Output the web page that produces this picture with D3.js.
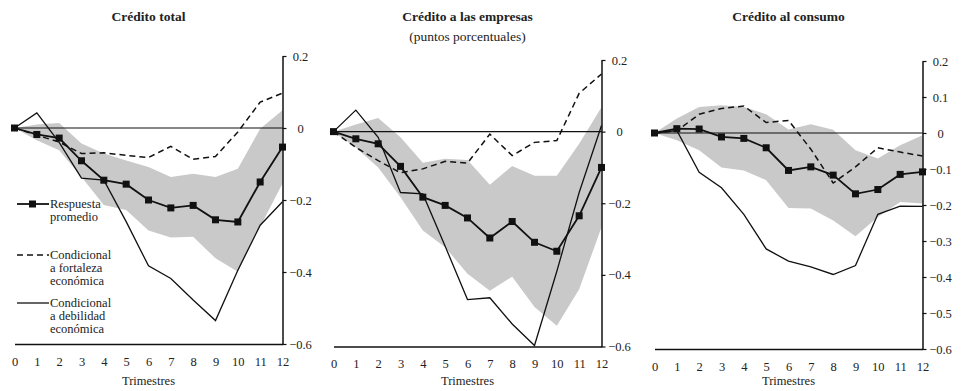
<html>
<head>
<script src="https://d3js.org/d3.v7.min.js"></script>
<style>
  body { margin: 0; background: #fff; }
</style>
</head>
<body>
<svg id="svg" width="961" height="391"></svg>
<script>
// horizon (quarters)
var quarters = d3.range(0, 13);
var yTicks1 = [0.2, 0, -0.2, -0.4, -0.6];
var yTicks3 = [0.2, 0.1, 0, -0.1, -0.2, -0.3, -0.4, -0.5, -0.6];

// Crédito total
var totalAvg    = [0, -0.018, -0.028, -0.091, -0.145, -0.156, -0.200, -0.222, -0.215, -0.255, -0.261, -0.150, -0.053];
var totalStrong = [0, -0.020, -0.039, -0.071, -0.069, -0.076, -0.082, -0.051, -0.087, -0.079, -0.011, 0.072, 0.097];
var totalWeak   = [0, 0.042, -0.040, -0.139, -0.145, -0.260, -0.383, -0.418, -0.478, -0.535, -0.395, -0.270, -0.205];
var totalHi     = [0, 0.010, 0.014, -0.043, -0.071, -0.090, -0.108, -0.136, -0.127, -0.136, -0.113, -0.002, 0.049];
var totalLo     = [0, -0.034, -0.062, -0.136, -0.214, -0.228, -0.285, -0.304, -0.302, -0.362, -0.399, -0.274, -0.154];

// Crédito a las empresas
var firmAvg    = [0, -0.020, -0.034, -0.097, -0.183, -0.206, -0.241, -0.297, -0.251, -0.309, -0.334, -0.235, -0.100];
var firmStrong = [0, -0.044, -0.081, -0.115, -0.104, -0.083, -0.088, -0.007, -0.067, -0.030, -0.025, 0.107, 0.161];
var firmWeak   = [0, 0.060, -0.016, -0.170, -0.174, -0.320, -0.469, -0.464, -0.537, -0.597, -0.390, -0.170, 0.017];
var firmHi     = [0, 0.020, 0.038, -0.016, -0.087, -0.076, -0.079, -0.148, -0.096, -0.123, -0.123, -0.034, 0.068];
var firmLo     = [0, -0.044, -0.100, -0.183, -0.276, -0.323, -0.397, -0.444, -0.405, -0.490, -0.542, -0.440, -0.267];

// Crédito al consumo
var consAvg    = [0, 0.012, 0.011, -0.011, -0.015, -0.041, -0.104, -0.094, -0.117, -0.169, -0.157, -0.115, -0.108];
var consStrong = [0, 0.006, 0.052, 0.068, 0.075, 0.029, 0.035, -0.045, -0.139, -0.094, -0.041, -0.053, -0.064];
var consWeak   = [0, 0.007, -0.109, -0.152, -0.226, -0.322, -0.356, -0.372, -0.393, -0.368, -0.226, -0.203, -0.204];
var consHi     = [0, 0.040, 0.072, 0.077, 0.072, 0.052, 0.010, 0.024, 0.009, -0.048, -0.071, -0.034, -0.006];
var consLo     = [0, -0.020, -0.048, -0.096, -0.104, -0.131, -0.208, -0.210, -0.243, -0.287, -0.233, -0.192, -0.196];

var titles = ["Crédito total", "Crédito a las empresas", "Crédito al consumo"];
var subtitle = "(puntos porcentuales)";
var xLabel = "Trimestres";
var legendLabels = [["Respuesta", "promedio"], ["Condicional", "a fortaleza", "económica"], ["Condicional", "a debilidad", "económica"]];

var panels = [
  {avg: totalAvg, strong: totalStrong, weak: totalWeak, hi: totalHi, lo: totalLo, ticks: yTicks1, x0: 14.5, x1: 282.5, yt: 56, yb: 344},
  {avg: firmAvg, strong: firmStrong, weak: firmWeak, hi: firmHi, lo: firmLo, ticks: yTicks1, x0: 333.5, x1: 601.5, yt: 60, yb: 346.5},
  {avg: consAvg, strong: consStrong, weak: consWeak, hi: consHi, lo: consLo, ticks: yTicks3, x0: 654.5, x1: 922.5, yt: 61, yb: 349}
];

var FONT = "'Liberation Serif', 'DejaVu Serif', serif";
var svg = d3.select("svg");
var fmt = function(d){ return d === 0 ? "0" : (d < 0 ? "\u2212" : "") + Math.abs(d).toFixed(1); };

panels.forEach(function(p, i){
  var x = d3.scaleLinear().domain([0, 12]).range([p.x0, p.x1]);
  var y = d3.scaleLinear().domain([-0.6, 0.2]).range([p.yb, p.yt]);
  var g = svg.append("g");

  // confidence band
  g.append("path")
    .datum(quarters)
    .attr("fill", "#c9c9c9")
    .attr("d", d3.area().x(function(d){ return x(d); }).y0(function(d){ return y(p.lo[d]); }).y1(function(d){ return y(p.hi[d]); }));

  // zero line
  g.append("line")
    .attr("x1", x(0)).attr("x2", x(12)).attr("y1", y(0)).attr("y2", y(0))
    .attr("stroke", "#111").attr("stroke-width", 1.1);

  var line = function(arr){ return d3.line().x(function(d){ return x(d); }).y(function(d){ return y(arr[d]); })(quarters); };

  g.append("path").attr("d", line(p.weak)).attr("fill", "none").attr("stroke", "#111").attr("stroke-width", 1.3);
  g.append("path").attr("d", line(p.strong)).attr("fill", "none").attr("stroke", "#111").attr("stroke-width", 1.5).attr("stroke-dasharray", "6,4");
  g.append("path").attr("d", line(p.avg)).attr("fill", "none").attr("stroke", "#111").attr("stroke-width", 1.8);
  g.selectAll("rect.mk").data(quarters).enter().append("rect")
    .attr("x", function(d){ return x(d) - 3.5; })
    .attr("y", function(d){ return y(p.avg[d]) - 3.5; })
    .attr("width", 7).attr("height", 7).attr("fill", "#111");

  // right axis
  var ya = g.append("g").attr("transform", "translate(" + p.x1 + ",0)")
    .call(d3.axisRight(y).tickValues(p.ticks).tickFormat(fmt).tickSize(4).tickSizeOuter(0));
  ya.attr("font-family", FONT);
  ya.select(".domain").attr("stroke", "#111").attr("stroke-width", 1.5);
  ya.selectAll(".tick line").attr("stroke", "#111").attr("stroke-width", 1.2);
  ya.selectAll(".tick text").attr("x", 18).attr("text-anchor", "middle").attr("font-size", 12.5).attr("fill", "#222");

  // bottom axis
  var xa = g.append("g").attr("transform", "translate(0," + p.yb + ")")
    .call(d3.axisBottom(x).tickValues(quarters).tickSize(0).tickPadding(13));
  xa.attr("font-family", FONT);
  xa.select(".domain").attr("stroke", "#111").attr("stroke-width", 1.5);
  xa.selectAll(".tick text").attr("font-size", 12.5).attr("fill", "#222");

  svg.append("text").attr("x", (p.x0 + p.x1) / 2).attr("y", 385).attr("text-anchor", "middle")
    .attr("font-family", FONT).attr("font-size", 12.5).attr("fill", "#222").text(xLabel);
  svg.append("text").attr("x", (p.x0 + p.x1) / 2).attr("y", 21).attr("text-anchor", "middle")
    .attr("font-family", FONT).attr("font-size", 13.5).attr("font-weight", "bold").attr("fill", "#222").text(titles[i]);
});

svg.append("text").attr("x", (panels[1].x0 + panels[1].x1) / 2).attr("y", 41).attr("text-anchor", "middle")
  .attr("font-family", FONT).attr("font-size", 13.5).attr("fill", "#222").text(subtitle);

// legend (first panel)
var leg = svg.append("g").attr("font-family", FONT);
var legY = [204, 255, 303];
var styles = [{w: 1.8, dash: null}, {w: 1.5, dash: "6,4"}, {w: 1.3, dash: null}];
legY.forEach(function(ly, k){
  leg.append("line").attr("x1", 17).attr("x2", 49).attr("y1", ly).attr("y2", ly)
    .attr("stroke", "#111").attr("stroke-width", styles[k].w).attr("stroke-dasharray", styles[k].dash);
  if (k === 0) leg.append("rect").attr("x", 29).attr("y", ly - 3.5).attr("width", 7).attr("height", 7).attr("fill", "#111");
  legendLabels[k].forEach(function(t, j){
    leg.append("text").attr("x", 50).attr("y", ly + 4 + j * 13).attr("font-size", 12.5).attr("fill", "#222").text(t);
  });
});
</script>
</body>
</html>
